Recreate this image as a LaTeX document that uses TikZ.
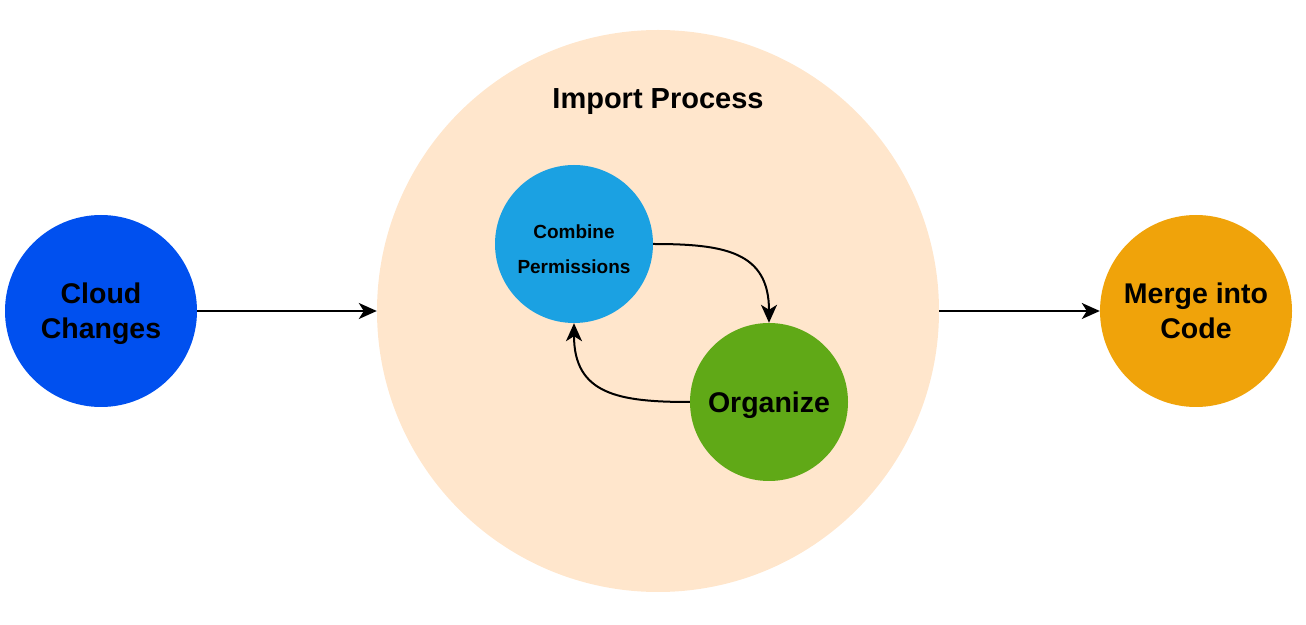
\documentclass[tikz,border=0pt]{standalone}
\usepackage{fontspec}
\setmainfont{Liberation Sans}
\usetikzlibrary{arrows.meta}

% Colours of the stages
\definecolor{cloudblue}{HTML}{0050EF}
\definecolor{combineblue}{HTML}{1BA1E2}
\definecolor{organizegreen}{HTML}{60A917}
\definecolor{mergeorange}{HTML}{F0A30A}
\definecolor{importpeach}{HTML}{FFE6CC}

\tikzset{
    stage/.style={circle, inner sep=0pt, align=center, text=black, text depth=-2pt,
        font=\bfseries\fontsize{28.5}{35}\selectfont},
    flow/.style={line width=2pt, -{Stealth[length=18pt, width=16pt, inset=5pt]}}
}

\begin{document}
\begin{tikzpicture}[x=1pt, y=1pt]

    % Fix the page to the size of the reference
    \useasboundingbox (0,0) rectangle (1306,624);

    % Define the radii of the circles
    \def\Rbig{281}
    \def\Rout{96}
    \def\Rin{79}

    % The large circle holding the import process
    \node[circle, fill=importpeach, minimum size=2*\Rbig] (import) at (658,313) {};
    \node[font=\bfseries\fontsize{29}{34}\selectfont] (importlabel) at (658,522) {Import Process};

    % Outer stages
    \node[stage, fill=cloudblue, minimum size=2*\Rout] (cloud) at (101,313) {Cloud\\Changes};
    \node[stage, fill=mergeorange, minimum size=2*\Rout] (merge) at (1196,313) {Merge into\\Code};

    % Inner stages
    \node[stage, fill=combineblue, minimum size=2*\Rin,
        font=\bfseries\fontsize{19}{35}\selectfont] (combine) at (574,380)
        {\rule{0pt}{24pt}Combine\\Permissions};
    \node[stage, fill=organizegreen, minimum size=2*\Rin] (organize) at (769,222) {Organize};

    % Connect the stages
    \draw[flow] (cloud) -- (import);
    \draw[flow] (import) -- (merge);
    \draw[flow] (combine.east) to[out=0, in=90, looseness=1.3] (organize.north);
    \draw[flow] (organize.west) to[out=180, in=-90, looseness=1.3] (combine.south);

\end{tikzpicture}
\end{document}
